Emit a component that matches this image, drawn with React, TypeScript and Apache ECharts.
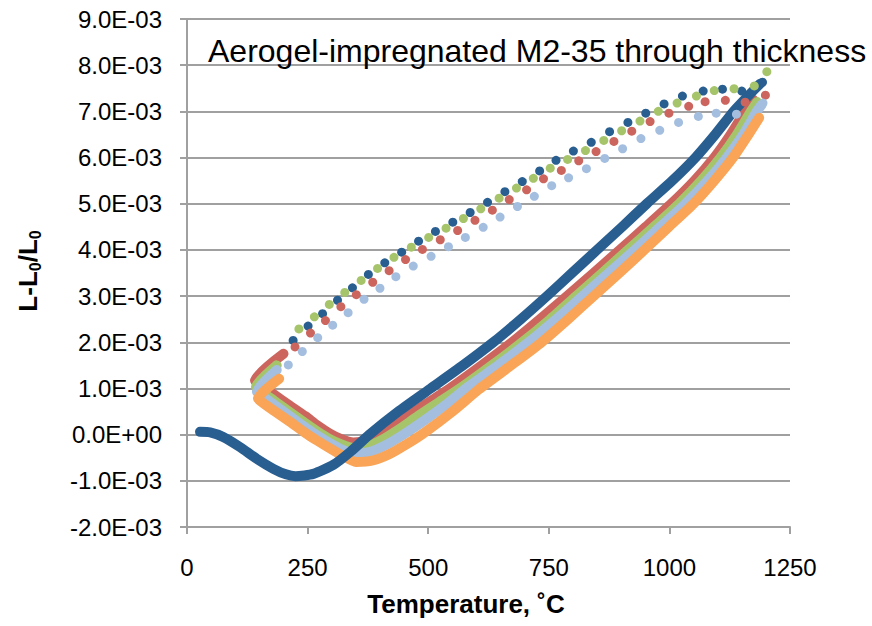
import React, { useEffect, useRef } from "react";
import * as echarts from "echarts";

// Temperatures in °C, strains (L-L0)/L0 in units of 1E-03
const xTicks = [0, 250, 500, 750, 1000, 1250];
const yTicks = [-2, -1, 0, 1, 2, 3, 4, 5, 6, 7, 8, 9];

const blueHeat = [[27,0.06],[48,0.05],[75,-0.05],[110,-0.27],[144,-0.52],[179,-0.74],[205,-0.86],[225,-0.9],[262,-0.85],[304,-0.65],[340,-0.36],[378,0],[438,0.5],[505,1.0],[572,1.5],[635,2.0],[692,2.5],[746,3.0],[798,3.5],[850,4.0],[902,4.5],[953,5.0],[1006,5.5],[1054,6.0],[1095,6.5],[1133,7.0],[1160,7.3],[1188,7.6]];
const redHeat = [[200,1.75],[141,1.17],[150,1.08],[180,0.87],[213,0.63],[245,0.4],[270,0.2],[295,0.03],[320,-0.1],[345,-0.17],[375,-0.12],[405,0.03],[440,0.28],[490,0.63],[545,1.0],[611,1.5],[674,2.0],[732,2.5],[788,3.0],[843,3.5],[897,4.0],[951,4.5],[1004,5.0],[1052,5.5],[1093,6.0],[1127,6.5],[1157,7.0],[1174,7.25]];
const greenHeat = [[186,1.5],[143,1.03],[152,0.94],[180,0.74],[213,0.49],[245,0.25],[270,0.07],[295,-0.09],[320,-0.21],[345,-0.29],[375,-0.25],[405,-0.11],[436,0.09],[480,0.41],[522,0.7],[566,1.0],[632,1.5],[695,2.0],[753,2.5],[807,3.0],[861,3.5],[914,4.0],[968,4.5],[1020,5.0],[1066,5.5],[1106,6.0],[1140,6.5],[1169,7.0],[1182,7.2]];
const lightBlueHeat = [[186,1.4],[145,0.93],[155,0.84],[180,0.65],[213,0.4],[245,0.16],[270,-0.02],[295,-0.18],[320,-0.32],[348,-0.41],[380,-0.37],[415,-0.21],[450,0.01],[495,0.33],[536,0.64],[578,1.0],[645,1.5],[708,2.0],[765,2.5],[820,3.0],[874,3.5],[928,4.0],[981,4.5],[1033,5.0],[1079,5.5],[1119,6.0],[1153,6.5],[1181,7.0],[1191,7.14]];
const orangeHeat = [[191,1.21],[147,0.78],[157,0.69],[180,0.52],[213,0.28],[245,0.04],[270,-0.13],[295,-0.29],[320,-0.44],[350,-0.59],[385,-0.56],[420,-0.42],[455,-0.21],[493,0.05],[550,0.5],[605,0.98],[672,1.5],[735,2.0],[790,2.5],[843,3.0],[896,3.5],[948,4.0],[999,4.5],[1050,5.0],[1093,5.5],[1132,6.0],[1164,6.5],[1186,6.86]];

const blueCool = [[1193,7.63],[1150,7.44],[1110,7.48],[1070,7.44],[1027,7.33],[989,7.16],[951,6.96],[914,6.76],[876,6.56],[838,6.33],[801,6.14],[765,5.94],[731,5.71],[695,5.48],[659,5.26],[623,5.03],[587,4.81],[551,4.6],[515,4.4],[480,4.19],[445,3.95],[410,3.72],[376,3.47],[343,3.18],[312,2.91],[281,2.62],[251,2.35],[220,2.04]];
const redCool = [[1199,7.35],[1157,7.2],[1116,7.24],[1074,7.21],[1040,7.11],[999,6.96],[960,6.78],[922,6.57],[885,6.35],[848,6.13],[812,5.93],[776,5.72],[739,5.54],[704,5.3],[668,5.09],[633,4.86],[597,4.64],[561,4.42],[525,4.22],[488,4.01],[453,3.79],[419,3.55],[385,3.3],[351,3.03],[319,2.77],[287,2.47],[256,2.2],[224,1.9]];
const greenCool = [[1202,7.86],[1176,7.55],[1134,7.49],[1093,7.45],[1056,7.33],[1016,7.18],[977,7.0],[939,6.79],[901,6.58],[864,6.37],[826,6.15],[789,5.96],[753,5.77],[718,5.55],[683,5.34],[647,5.12],[609,4.89],[573,4.68],[537,4.47],[501,4.27],[465,4.06],[429,3.84],[395,3.6],[361,3.34],[327,3.08],[295,2.82],[264,2.55],[232,2.29]];
const lightBlueCool = [[1194,7.18],[1139,6.94],[1097,6.96],[1060,6.89],[1019,6.76],[980,6.59],[941,6.41],[903,6.19],[866,5.98],[828,5.76],[791,5.56],[756,5.39],[720,5.16],[685,4.94],[649,4.71],[614,4.49],[577,4.27],[542,4.07],[506,3.86],[469,3.65],[433,3.42],[400,3.17],[367,2.93],[334,2.64],[302,2.37],[271,2.1],[239,1.8],[210,1.51]];

const COLORS = {
  blue: "#295E91",
  red: "#CC655D",
  green: "#A6C46A",
  lightBlue: "#A4BEDF",
  orange: "#F9A456",
};

const FONT = "'Liberation Sans', Arial, sans-serif";
const GRID_COLOR = "#A0A0A0";

function fmtY(v: number): string {
  const n = Math.round(v);
  if (n === 0) return "0.0E+00";
  return `${n.toFixed(1)}E-03`;
}

export default function App() {
  const ref = useRef<HTMLDivElement>(null);
  useEffect(() => {
    document.body.style.margin = "0";
    const chart = echarts.init(ref.current!, null, { renderer: "svg" });
    const line = (name: string, data: number[][], color: string, z: number) => ({
      type: "line",
      name,
      data,
      showSymbol: false,
      symbol: "none",
      smooth: 0.2,
      silent: true,
      z,
      lineStyle: { color, width: 10, cap: "round", join: "round" },
    });
    const dots = (name: string, data: number[][], color: string) => ({
      type: "scatter",
      name,
      data,
      symbol: "circle",
      symbolSize: 9,
      silent: true,
      z: 5,
      itemStyle: { color, opacity: 1 },
    });
    chart.setOption({
      animation: false,
      backgroundColor: "#ffffff",
      textStyle: { fontFamily: FONT },
      grid: { left: 187, right: 82, top: 19, bottom: 99, containLabel: false, outerBoundsMode: "none" },
      xAxis: {
        type: "value",
        min: xTicks[0],
        max: xTicks[xTicks.length - 1],
        interval: 250,
        axisLine: { show: true, onZero: false, lineStyle: { color: GRID_COLOR, width: 2 } },
        axisTick: { show: true, length: 7, lineStyle: { color: GRID_COLOR, width: 2 } },
        axisLabel: { fontSize: 24, color: "#000", margin: 28, fontFamily: FONT, formatter: (v: number) => String(v) },
        splitLine: { show: false },
      },
      yAxis: {
        type: "value",
        min: yTicks[0],
        max: yTicks[yTicks.length - 1],
        interval: 1,
        axisLine: { show: true, lineStyle: { color: GRID_COLOR, width: 2 } },
        axisTick: { show: true, length: 7, lineStyle: { color: GRID_COLOR, width: 2 } },
        axisLabel: { fontSize: 24, color: "#000", margin: 25, fontFamily: FONT, formatter: fmtY },
        splitLine: { show: true, lineStyle: { color: GRID_COLOR, width: 2 } },
      },
      graphic: [
        {
          type: "text",
          left: 208,
          top: 35,
          style: { text: "Aerogel-impregnated M2-35 through thickness", fontSize: 32, fontFamily: FONT, fill: "#000" },
          z: 10,
        },
        {
          type: "text",
          x: 466,
          y: 604,
          style: { text: "Temperature, ˚C", fontSize: 26, fontWeight: "bold", fontFamily: FONT, fill: "#000", align: "center", verticalAlign: "middle" },
        },
        {
          type: "text",
          x: 28,
          y: 271,
          rotation: Math.PI / 2,
          style: {
            text: "{a|L-L}{s|0}{a|/L}{s|0}",
            align: "center",
            verticalAlign: "middle",
            fill: "#000",
            rich: {
              a: { fontSize: 26, fontWeight: "bold", fontFamily: FONT, fill: "#000", lineHeight: 30, verticalAlign: "middle" },
              s: { fontSize: 16, fontWeight: "bold", fontFamily: FONT, fill: "#000", lineHeight: 30, verticalAlign: "bottom", padding: [12, 0, 0, 0] },
            },
          },
        },
      ],
      series: [
        line("blue heating", blueHeat, COLORS.blue, 3),
        line("red heating", redHeat, COLORS.red, 2),
        line("green heating", greenHeat, COLORS.green, 2),
        line("light blue heating", lightBlueHeat, COLORS.lightBlue, 2),
        line("orange heating", orangeHeat, COLORS.orange, 2),
        dots("blue cooling", blueCool, COLORS.blue),
        dots("red cooling", redCool, COLORS.red),
        dots("green cooling", greenCool, COLORS.green),
        dots("light blue cooling", lightBlueCool, COLORS.lightBlue),
      ],
    });
    return () => chart.dispose();
  }, []);
  return <div ref={ref} style={{ position: "absolute", left: 0, top: 0, width: 872, height: 626 }} />;
}
